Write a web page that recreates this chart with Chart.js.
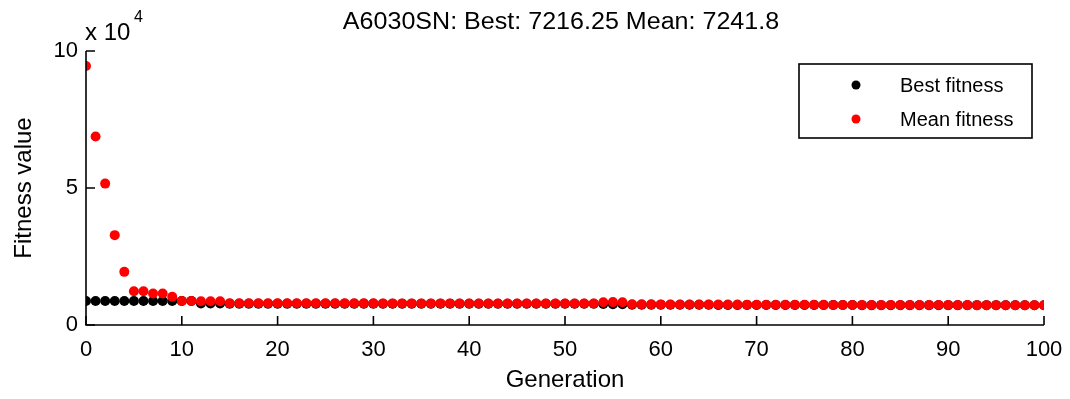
<!DOCTYPE html>
<html>
<head>
<meta charset="utf-8">
<title>GA fitness</title>
<script src="https://cdn.jsdelivr.net/npm/chart.js@4/dist/chart.umd.min.js"></script>
<style>
  html, body { margin: 0; padding: 0; background: #fff; }
  #wrap { width: 1070px; height: 399px; position: relative; }
</style>
</head>
<body>
<div id="wrap"><canvas id="gaChart"></canvas></div>
<script>
// Generations 0..100
const generations = [
  0, 1, 2, 3, 4, 5, 6, 7, 8, 9,
  10, 11, 12, 13, 14, 15, 16, 17, 18, 19,
  20, 21, 22, 23, 24, 25, 26, 27, 28, 29,
  30, 31, 32, 33, 34, 35, 36, 37, 38, 39,
  40, 41, 42, 43, 44, 45, 46, 47, 48, 49,
  50, 51, 52, 53, 54, 55, 56, 57, 58, 59,
  60, 61, 62, 63, 64, 65, 66, 67, 68, 69,
  70, 71, 72, 73, 74, 75, 76, 77, 78, 79,
  80, 81, 82, 83, 84, 85, 86, 87, 88, 89,
  90, 91, 92, 93, 94, 95, 96, 97, 98, 99,
  100
];

// Best fitness per generation
const bestFitness = [
  8750, 8750, 8750, 8750, 8750, 8750, 8750, 8750, 8750, 8750,
  8750, 8750, 7850, 7850, 7850, 7800, 7800, 7800, 7800, 7800,
  7800, 7800, 7800, 7800, 7800, 7800, 7800, 7800, 7800, 7800,
  7800, 7780, 7780, 7780, 7780, 7780, 7780, 7780, 7780, 7780,
  7780, 7780, 7780, 7780, 7780, 7780, 7760, 7760, 7760, 7760,
  7760, 7760, 7760, 7760, 7650, 7600, 7600, 7400, 7400, 7400,
  7400, 7400, 7400, 7400, 7400, 7400, 7300, 7300, 7300, 7300,
  7300, 7300, 7300, 7300, 7300, 7300, 7300, 7300, 7300, 7300,
  7300, 7250, 7250, 7250, 7250, 7250, 7250, 7250, 7250, 7250,
  7250, 7250, 7250, 7250, 7250, 7250, 7216.25, 7216.25, 7216.25, 7216.25,
  7216.25
];

// Mean fitness per generation
const meanFitness = [
  94500, 68800, 51600, 32800, 19400, 12300, 12300, 11500, 11500, 10300,
  8800, 8800, 8700, 8700, 8700, 7950, 7950, 7940, 7940, 7930,
  7930, 7920, 7920, 7920, 7910, 7910, 7910, 7900, 7900, 7900,
  7900, 7890, 7890, 7890, 7890, 7880, 7880, 7880, 7880, 7870,
  7870, 7870, 7870, 7860, 7860, 7860, 7860, 7850, 7850, 7850,
  7850, 7840, 7840, 7840, 8300, 8350, 8300, 7550, 7540, 7530,
  7520, 7510, 7500, 7490, 7480, 7470, 7460, 7450, 7440, 7430,
  7420, 7410, 7400, 7390, 7380, 7370, 7360, 7350, 7340, 7330,
  7320, 7310, 7300, 7300, 7290, 7290, 7280, 7280, 7270, 7270,
  7260, 7260, 7255, 7250, 7250, 7250, 7245, 7245, 7242, 7242,
  7241.8
];

const xTicks = [0, 10, 20, 30, 40, 50, 60, 70, 80, 90, 100];
const yTicks = [0, 50000, 100000];

const titleText = 'A6030SN: Best: 7216.25 Mean: 7241.8';
const FONT = '"Liberation Sans", Arial, sans-serif';

function toPoints(values) {
  return generations.map((g, i) => ({ x: g, y: values[i] }));
}

// Inward tick marks, axis lines, title, exponent label and boxed legend
const matlabAxes = {
  id: 'matlabAxes',
  afterDraw(chart) {
    const { ctx, chartArea: a, scales } = chart;
    const xs = scales.x, ys = scales.y;
    ctx.save();
    ctx.strokeStyle = '#000';
    ctx.lineWidth = 1.6;

    // axis lines
    ctx.beginPath();
    ctx.moveTo(a.left, a.top);
    ctx.lineTo(a.left, a.bottom);
    ctx.lineTo(a.right, a.bottom);
    ctx.stroke();

    // ticks pointing into the plot
    ctx.beginPath();
    xTicks.forEach(v => {
      const px = xs.getPixelForValue(v);
      ctx.moveTo(px, a.bottom);
      ctx.lineTo(px, a.bottom - 9);
    });
    yTicks.forEach(v => {
      const py = ys.getPixelForValue(v);
      ctx.moveTo(a.left, py);
      ctx.lineTo(a.left + 9, py);
    });
    ctx.stroke();

    ctx.fillStyle = '#000';
    // title, a little wider than the plain font
    ctx.save();
    ctx.font = '23px ' + FONT;
    ctx.textAlign = 'center';
    ctx.textBaseline = 'alphabetic';
    ctx.translate(561, 29);
    ctx.scale(1.09, 1);
    ctx.fillText(titleText, 0, 0);
    ctx.restore();

    // exponent
    ctx.textAlign = 'left';
    ctx.textBaseline = 'alphabetic';
    ctx.font = '24px ' + FONT;
    ctx.fillText('x 10', a.left - 1, 40);
    ctx.font = '16px ' + FONT;
    ctx.fillText('4', a.left + 48, 22);

    // legend
    const lx = 799, ly = 64, lw = 233, lh = 74;
    ctx.fillStyle = '#fff';
    ctx.fillRect(lx, ly, lw, lh);
    ctx.lineWidth = 1.6;
    ctx.strokeRect(lx, ly, lw, lh);
    ctx.font = '20px ' + FONT;
    ctx.textBaseline = 'middle';
    chart.data.datasets.forEach((ds, i) => {
      const cy = ly + 21 + i * 34;
      ctx.fillStyle = ds.backgroundColor;
      ctx.beginPath();
      ctx.arc(856, cy, 4.5, 0, Math.PI * 2);
      ctx.fill();
      ctx.fillStyle = '#000';
      ctx.fillText(ds.label, 900, cy + 1);
    });
    ctx.restore();
  }
};

new Chart(document.getElementById('gaChart'), {
  type: 'scatter',
  plugins: [matlabAxes],
  data: {
    datasets: [
      {
        label: 'Best fitness',
        data: toPoints(bestFitness),
        backgroundColor: '#000000',
        borderColor: '#000000',
        pointRadius: 5,
        pointBorderWidth: 0,
        order: 1
      },
      {
        label: 'Mean fitness',
        data: toPoints(meanFitness),
        backgroundColor: '#ff0000',
        borderColor: '#ff0000',
        pointRadius: 5,
        pointBorderWidth: 0,
        order: 0
      }
    ]
  },
  options: {
    responsive: true,
    maintainAspectRatio: false,
    animation: false,
    layout: { padding: { top: 51, right: 26, left: 10, bottom: 0 } },
    plugins: {
      legend: { display: false },
      title: { display: false },
      tooltip: { enabled: false }
    },
    scales: {
      x: {
        type: 'linear',
        min: 0,
        max: 100,
        afterFit: s => { s.height = 74; s.paddingLeft = 0; s.paddingRight = 0; },
        afterBuildTicks: s => { s.ticks = xTicks.map(v => ({ value: v })); },
        grid: { display: false, drawTicks: false },
        border: { display: false },
        ticks: {
          color: '#000',
          padding: 12,
          maxRotation: 0,
          font: { family: FONT, size: 22 }
        },
        title: {
          display: true,
          text: 'Generation',
          color: '#000',
          padding: { top: 0, bottom: 4 },
          font: { family: FONT, size: 24 }
        }
      },
      y: {
        min: 0,
        max: 100000,
        afterFit: s => { s.width = 76; },
        afterBuildTicks: s => { s.ticks = yTicks.map(v => ({ value: v })); },
        grid: { display: false, drawTicks: false },
        border: { display: false },
        ticks: {
          color: '#000',
          padding: 8,
          font: { family: FONT, size: 22 },
          callback: v => String(v / 10000)
        },
        title: {
          display: true,
          text: 'Fitness value',
          color: '#000',
          padding: { top: 0, bottom: 4 },
          font: { family: FONT, size: 24 }
        }
      }
    }
  }
});
</script>
</body>
</html>
